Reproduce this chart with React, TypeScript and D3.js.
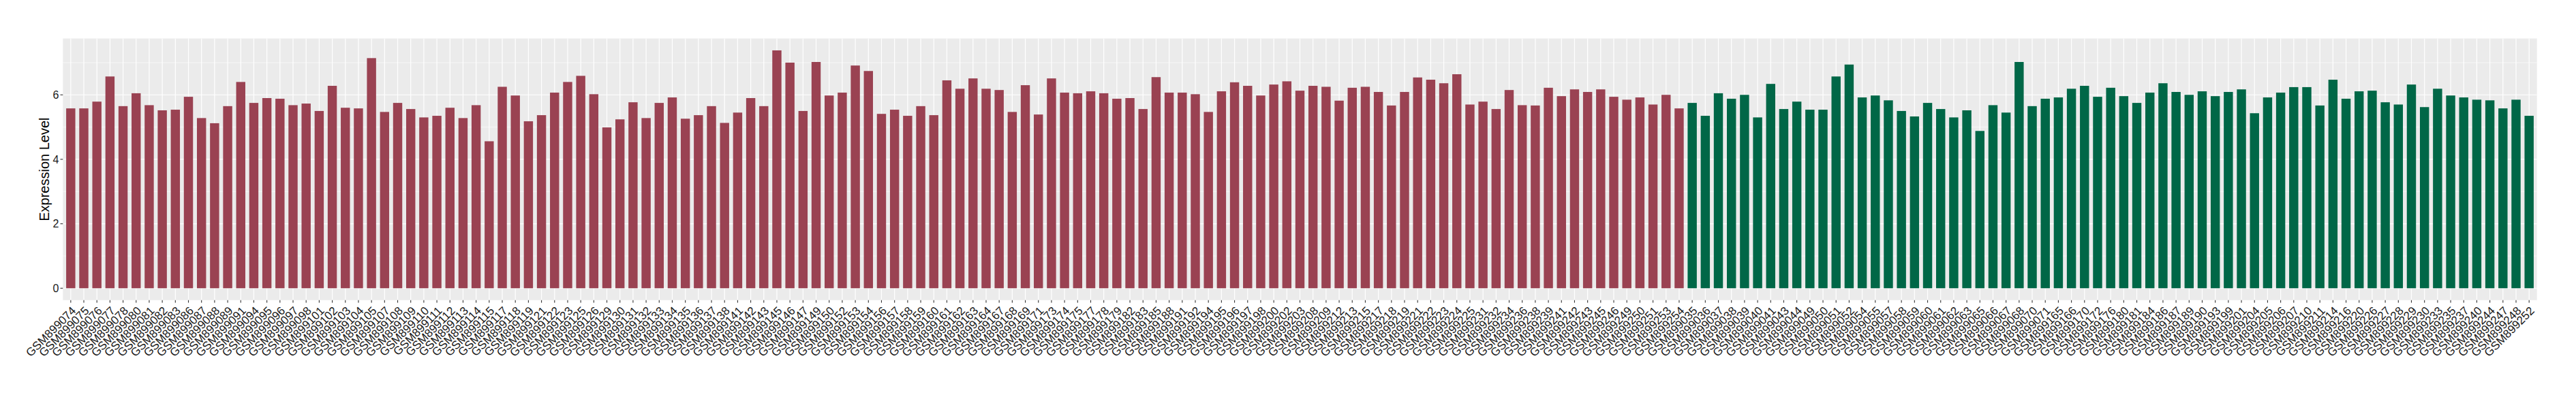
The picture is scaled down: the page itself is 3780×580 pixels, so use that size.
import React from "react";
import * as d3 from "d3";

// sample ids and expression values
const groupASamples = [
  "GSM899074", "GSM899075", "GSM899076", "GSM899077", "GSM899078", "GSM899080", "GSM899081", "GSM899082", "GSM899083", "GSM899086",
  "GSM899087", "GSM899088", "GSM899089", "GSM899091", "GSM899094", "GSM899095", "GSM899096", "GSM899097", "GSM899098", "GSM899101",
  "GSM899102", "GSM899103", "GSM899104", "GSM899105", "GSM899107", "GSM899108", "GSM899109", "GSM899110", "GSM899111", "GSM899112",
  "GSM899113", "GSM899114", "GSM899115", "GSM899117", "GSM899118", "GSM899119", "GSM899121", "GSM899122", "GSM899123", "GSM899125",
  "GSM899126", "GSM899129", "GSM899130", "GSM899131", "GSM899132", "GSM899133", "GSM899134", "GSM899135", "GSM899136", "GSM899137",
  "GSM899138", "GSM899141", "GSM899142", "GSM899143", "GSM899145", "GSM899146", "GSM899147", "GSM899149", "GSM899150", "GSM899152",
  "GSM899153", "GSM899154", "GSM899156", "GSM899157", "GSM899158", "GSM899159", "GSM899160", "GSM899161", "GSM899162", "GSM899163",
  "GSM899164", "GSM899167", "GSM899168", "GSM899169", "GSM899171", "GSM899173", "GSM899174", "GSM899175", "GSM899177", "GSM899178",
  "GSM899179", "GSM899182", "GSM899183", "GSM899185", "GSM899188", "GSM899191", "GSM899192", "GSM899194", "GSM899195", "GSM899196",
  "GSM899197", "GSM899198", "GSM899200", "GSM899202", "GSM899203", "GSM899208", "GSM899209", "GSM899212", "GSM899213", "GSM899215",
  "GSM899217", "GSM899218", "GSM899219", "GSM899221", "GSM899222", "GSM899223", "GSM899224", "GSM899225", "GSM899231", "GSM899232",
  "GSM899234", "GSM899236", "GSM899238", "GSM899239", "GSM899241", "GSM899242", "GSM899243", "GSM899245", "GSM899246", "GSM899249",
  "GSM899250", "GSM899251", "GSM899253", "GSM899254",
];
const groupAValues = [
  5.58, 5.58, 5.79, 6.57, 5.65, 6.05, 5.68, 5.52, 5.54, 5.94,
  5.28, 5.12, 5.65, 6.4, 5.75, 5.9, 5.88, 5.68, 5.73, 5.5,
  6.28, 5.6, 5.58, 7.14, 5.47, 5.75, 5.56, 5.3, 5.35, 5.6,
  5.28, 5.68, 4.56, 6.25, 5.98, 5.18, 5.37, 6.07, 6.4, 6.59,
  6.02, 4.99, 5.24, 5.77, 5.28, 5.75, 5.92, 5.26, 5.37, 5.65,
  5.13, 5.45, 5.9, 5.65, 7.38, 7.0, 5.5, 7.02, 5.98, 6.07,
  6.91, 6.74, 5.41, 5.54, 5.35, 5.65, 5.37, 6.45, 6.19, 6.51,
  6.19, 6.15, 5.47, 6.3, 5.39, 6.51, 6.07, 6.05, 6.11, 6.05,
  5.88, 5.9, 5.56, 6.55, 6.07, 6.07, 6.02, 5.47, 6.11, 6.39,
  6.28, 5.98, 6.32, 6.42, 6.13, 6.28, 6.25, 5.82, 6.22, 6.25,
  6.09, 5.67, 6.09, 6.54, 6.47, 6.36, 6.64, 5.7, 5.79, 5.56,
  6.15, 5.68, 5.67, 6.22, 5.96, 6.17, 6.09, 6.17, 5.94, 5.85,
  5.92, 5.7, 6.0, 5.58,
];

const groupBSamples = [
  "GSM899035", "GSM899036", "GSM899037", "GSM899038", "GSM899039", "GSM899040", "GSM899041", "GSM899043", "GSM899044", "GSM899049",
  "GSM899050", "GSM899051", "GSM899052", "GSM899054", "GSM899055", "GSM899057", "GSM899058", "GSM899059", "GSM899060", "GSM899061",
  "GSM899062", "GSM899063", "GSM899065", "GSM899066", "GSM899067", "GSM899068", "GSM899070", "GSM899071", "GSM899165", "GSM899166",
  "GSM899170", "GSM899172", "GSM899176", "GSM899180", "GSM899181", "GSM899184", "GSM899186", "GSM899187", "GSM899189", "GSM899190",
  "GSM899193", "GSM899199", "GSM899201", "GSM899204", "GSM899205", "GSM899206", "GSM899207", "GSM899210", "GSM899211", "GSM899214",
  "GSM899216", "GSM899220", "GSM899226", "GSM899227", "GSM899228", "GSM899229", "GSM899230", "GSM899233", "GSM899235", "GSM899237",
  "GSM899240", "GSM899244", "GSM899247", "GSM899248", "GSM899252",
];
const groupBValues = [
  5.75, 5.35, 6.05, 5.88, 6.0, 5.3, 6.34, 5.56, 5.79, 5.54,
  5.54, 6.57, 6.94, 5.92, 5.98, 5.83, 5.5, 5.33, 5.75, 5.56,
  5.3, 5.52, 4.88, 5.68, 5.45, 7.02, 5.65, 5.88, 5.92, 6.19,
  6.28, 5.94, 6.22, 5.96, 5.75, 6.07, 6.36, 6.09, 6.0, 6.11,
  5.96, 6.09, 6.17, 5.43, 5.92, 6.07, 6.24, 6.24, 5.67, 6.47,
  5.88, 6.11, 6.13, 5.77, 5.7, 6.32, 5.62, 6.19, 5.98, 5.92,
  5.85, 5.83, 5.58, 5.85, 5.35,
];

const yTicks = [0, 2, 4, 6];
const yMinor = [1, 3, 5, 7];

const groupColors = { A: "#9A4252", B: "#006747" };

const W = 3780;
const H = 580;
const panel = { left: 92.3, right: 3722.7, top: 56.5, bottom: 440.7 };
const FONT = "'Liberation Sans', Arial, Helvetica, sans-serif";

export default function App() {
  const data = [
    ...groupASamples.map((s, i) => ({ sample: s, value: groupAValues[i], group: "A" })),
    ...groupBSamples.map((s, i) => ({ sample: s, value: groupBValues[i], group: "B" })),
  ];

  const x = d3
    .scaleBand()
    .domain(data.map((d) => d.sample))
    .range([panel.left, panel.right])
    .paddingInner(0.3)
    .paddingOuter(0.25);

  const maxV = d3.max(data, (d) => d.value);
  const pad = maxV * 0.05;
  const y = d3
    .scaleLinear()
    .domain([-pad, maxV + pad])
    .range([panel.bottom, panel.top]);

  const cx = (s) => x(s) + x.bandwidth() / 2;

  return (
    <svg
      width={W}
      height={H}
      style={{ position: "absolute", left: 0, top: 0, background: "#fff" }}
      fontFamily={FONT}
    >
      <rect
        x={panel.left}
        y={panel.top}
        width={panel.right - panel.left}
        height={panel.bottom - panel.top}
        fill="#EBEBEB"
      />
      {/* minor y grid */}
      {yMinor.map((t) => (
        <line key={"mn" + t} x1={panel.left} x2={panel.right} y1={y(t)} y2={y(t)} stroke="#fff" strokeWidth={0.6} />
      ))}
      {/* major y grid */}
      {yTicks.map((t) => (
        <line key={"mj" + t} x1={panel.left} x2={panel.right} y1={y(t)} y2={y(t)} stroke="#fff" strokeWidth={1.2} />
      ))}
      {/* x grid */}
      {data.map((d) => (
        <line key={"gx" + d.sample} x1={cx(d.sample)} x2={cx(d.sample)} y1={panel.top} y2={panel.bottom} stroke="#fff" strokeWidth={1.2} />
      ))}

      {/* bars */}
      {data.map((d) => (
        <rect
          key={"b" + d.sample}
          x={x(d.sample)}
          width={x.bandwidth()}
          y={y(d.value)}
          height={y(0) - y(d.value)}
          fill={groupColors[d.group]}
        />
      ))}

      {/* y axis */}
      {yTicks.map((t) => (
        <g key={"yt" + t}>
          <line x1={panel.left - 3.8} x2={panel.left} y1={y(t)} y2={y(t)} stroke="#333" strokeWidth={1.1} />
          <text x={panel.left - 6} y={y(t)} dy="0.35em" textAnchor="end" fontSize={16} fill="#1A1A1A">
            {t}
          </text>
        </g>
      ))}
      <text
        transform={`translate(72,${(panel.top + panel.bottom) / 2}) rotate(-90)`}
        textAnchor="middle"
        fontSize={20}
        fill="#000"
      >
        Expression Level
      </text>

      {/* x axis */}
      {data.map((d) => (
        <g key={"xt" + d.sample}>
          <line x1={cx(d.sample)} x2={cx(d.sample)} y1={panel.bottom} y2={panel.bottom + 3.8} stroke="#333" strokeWidth={1.1} />
          <text
            transform={`translate(${cx(d.sample)},${panel.bottom + 8}) rotate(-45)`}
            textAnchor="end"
            dy="0.72em"
            fontSize={17}
            fill="#1A1A1A"
          >
            {d.sample}
          </text>
        </g>
      ))}
    </svg>
  );
}
